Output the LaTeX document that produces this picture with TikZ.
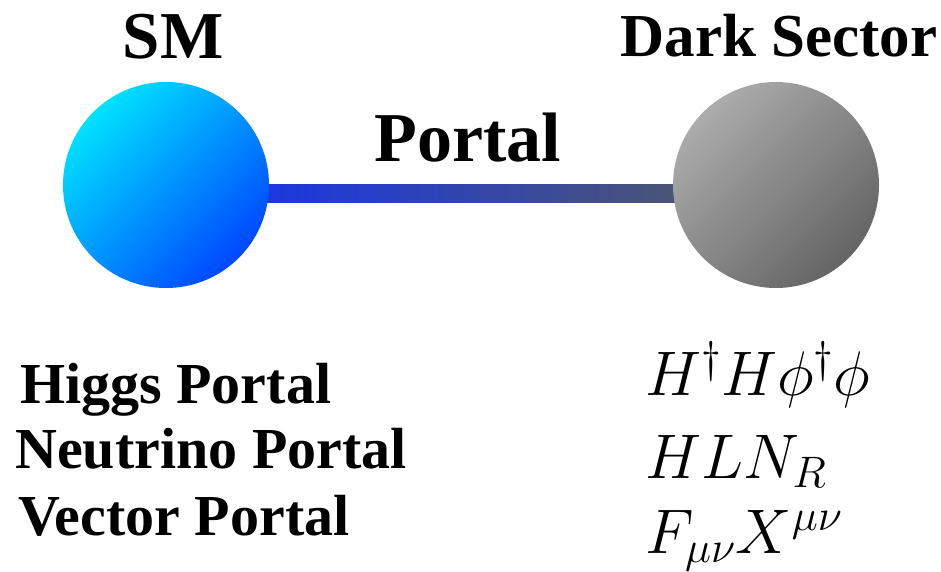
\RequirePackage{fix-cm}
\documentclass[tikz,border=0pt]{standalone}
\usepackage{fontspec}
\setmainfont{Liberation Serif}
\usetikzlibrary{backgrounds}
\definecolor{smlight}{RGB}{0,226,255}
\definecolor{smdark}{RGB}{0,72,255}
\definecolor{dslight}{RGB}{172,172,172}
\definecolor{dsdark}{RGB}{100,100,100}
\definecolor{barleft}{RGB}{26,56,226}
\definecolor{barright}{RGB}{76,84,118}
\tikzset{
  ball/.style={circle, minimum size=206pt, inner sep=0pt},
  smball/.style={ball, top color=smlight, bottom color=smdark, shading angle=45},
  dsball/.style={ball, top color=dslight, bottom color=dsdark, shading angle=45},
  title/.style={inner sep=0pt, anchor=base, font=\bfseries\fontsize{67}{80}\selectfont},
  label/.style={inner sep=0pt, anchor=base west, font=\bfseries\fontsize{58}{70}\selectfont},
  formula/.style={inner sep=0pt, anchor=base west, font=\fontsize{63}{74}\selectfont},
}
\begin{document}
\begin{tikzpicture}[x=1pt,y=1pt]
\useasboundingbox (0,0) rectangle (941,571);
\node[smball] (sm) at (166,386) {};
\node[dsball] (ds) at (776,386) {};
\begin{pgfonlayer}{background}
\shade[left color=barleft, right color=barright]
  ([xshift=-6pt,yshift=-18pt]sm.east) rectangle ([xshift=6pt]ds.west);
\end{pgfonlayer}
\node[title] (smt) at (173,512) {SM};
\node[title, font=\bfseries\fontsize{61}{72}\selectfont] (dst) at (779,514) {Dark Sector};
\node[title, font=\bfseries\fontsize{70}{84}\selectfont] (pt) at (468,409) {Portal};
\node[label] (hp) at (20,168) {Higgs Portal};
\node[label] (np) at (15,103) {Neutrino Portal};
\node[label] (vp) at (18,36) {Vector Portal};
\node[formula] (hf) at (645,176) {$H^\dagger H\phi^\dagger\phi$};
\node[formula] (nf) at (645,93) {$HLN_R$};
\node[formula] (vf) at (645,18) {$F_{\mu\nu}X^{\mu\nu}$};
\end{tikzpicture}
\end{document}
